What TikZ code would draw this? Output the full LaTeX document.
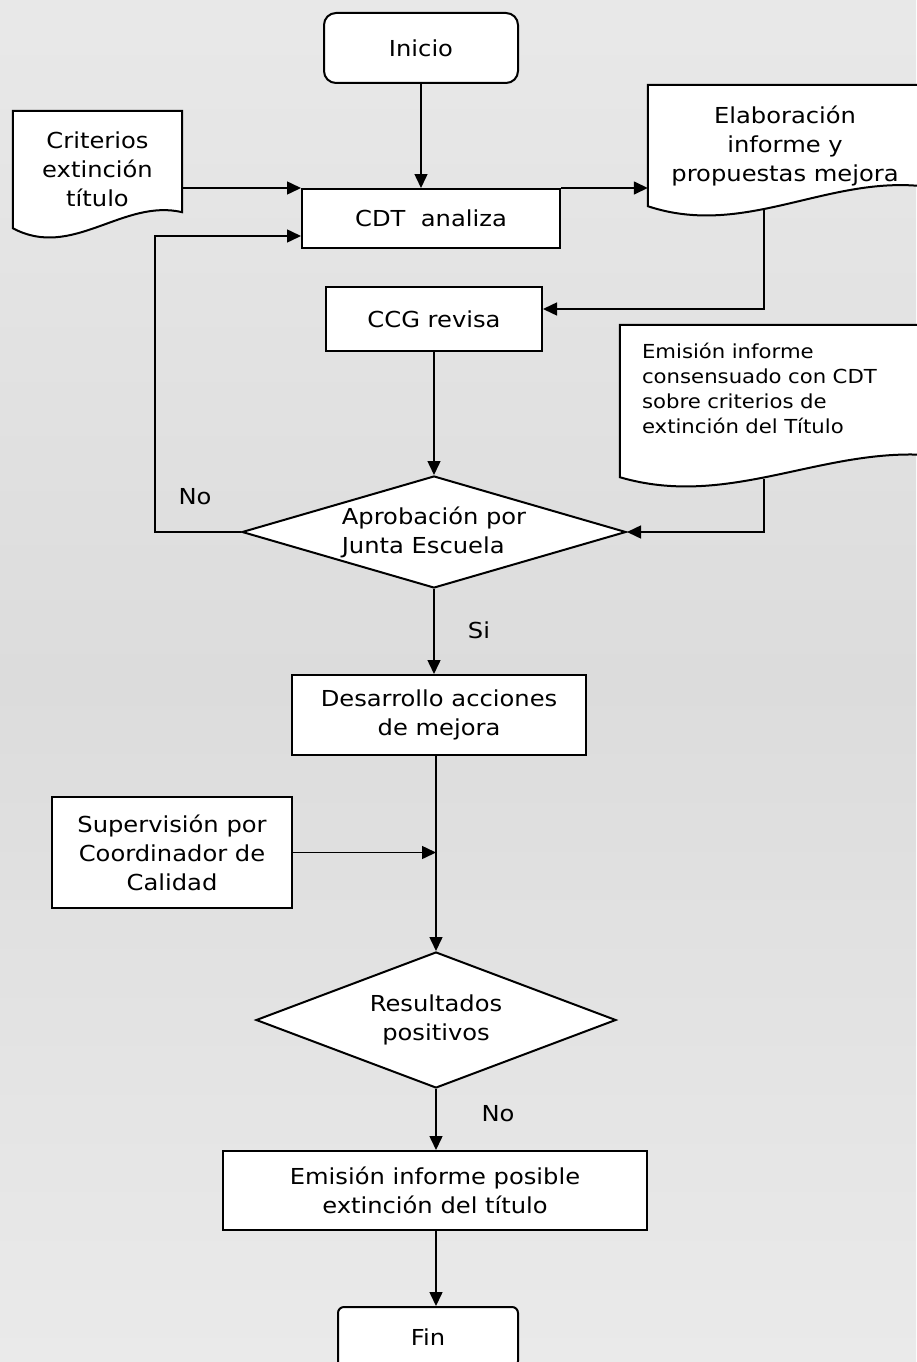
\documentclass[tikz,border=0pt]{standalone}
\usepackage{fontspec}
\setmainfont{DejaVu Sans}[FakeStretch=1.1]
\usepackage{tikz}
\usetikzlibrary{shapes,arrows,arrows.meta,calc}

\definecolor{fondoarriba}{HTML}{F5F5F5}
\definecolor{fondomedio}{HTML}{DCDCDC}
\definecolor{fondoabajo}{HTML}{F8F8F8}
\pgfdeclareverticalshading{fondo}{100bp}{color(0bp)=(fondoabajo); color(50bp)=(fondomedio); color(100bp)=(fondoarriba)}

\pgfdeclarelayer{bg}
\pgfdeclarelayer{hojas}
\pgfsetlayers{bg,hojas,main}

% contorno de documento con borde inferior ondulado
\newcommand{\hoja}[3]{%
\draw[line width=2pt, fill=white] (#1.north west) -- (#1.north east) -- ($(#1.south east)+(0,#2-#3)$)
  .. controls ($(#1.south west)!0.65!(#1.south east)+(0,#2-30)$) and ($(#1.south west)!0.35!(#1.south east)+(0,#2+32)$) .. ($(#1.south west)+(0,#2)$) -- cycle;}

\begin{document}
\begin{tikzpicture}[x=1pt,y=-1pt]
\tikzstyle{every node}=[font=\fontsize{22}{29}\selectfont]
\tikzstyle{caja}=[draw, fill=white, line width=2pt, align=center, inner sep=0pt]
\tikzstyle{terminal}=[caja, rounded corners=12pt]
\tikzstyle{rombo}=[caja, diamond]
\tikzstyle{hojatxt}=[align=center, inner sep=0pt]
\tikzstyle{flecha}=[line width=1.5pt, -{Triangle[length=14pt,width=13pt]}]
\tikzstyle{etiq}=[inner sep=0pt]

\useasboundingbox (0,0) rectangle (916,1362);
\begin{pgfonlayer}{bg}
\shade[shading=fondo] (0,0) rectangle (916,1362);
\end{pgfonlayer}

\node[terminal, minimum width=194pt, minimum height=70pt] (inicio) at (421,48) {Inicio};
\node[hojatxt, minimum width=169pt, minimum height=117pt] (crit) at (97.5,169.5) {Criterios\\extinción\\título};
\node[caja, minimum width=258pt, minimum height=59pt] (cdt) at (431,218.5) {CDT\ \ analiza};
\node[hojatxt, minimum width=274pt, minimum height=121pt] (elab) at (785,145.5) {Elaboración\\informe y\\propuestas mejora};
\node[caja, minimum width=216pt, minimum height=64pt] (ccg) at (434,319) {CCG revisa};
\node[hojatxt, align=left, font=\fontsize{19.3}{25}\selectfont, inner xsep=22pt, text width=266pt, minimum height=126pt] (emis) at (775,388) {Emisión informe\\consensuado con CDT\\sobre criterios de\\extinción del Título};
\node[rombo, aspect=3.43, align=left, minimum width=384pt, minimum height=112pt] (apro) at (434,532) {Aprobación por\\Junta Escuela};
\node[caja, minimum width=294pt, minimum height=80pt] (desa) at (439,715) {Desarrollo acciones\\de mejora};
\node[caja, minimum width=240pt, minimum height=111pt] (super) at (172,852.5) {Supervisión por\\Coordinador de\\Calidad};
\node[rombo, aspect=2.65, minimum width=360pt, minimum height=136pt] (resu) at (436,1020) {Resultados\\positivos};
\node[caja, minimum width=424pt, minimum height=79pt] (posible) at (435,1190.5) {Emisión informe posible\\extinción del título};
\node[caja, rounded corners=6pt, minimum width=180pt, minimum height=60pt] (fin) at (428,1337) {Fin};

\begin{pgfonlayer}{hojas}
\hoja{crit}{0}{16}
\hoja{elab}{0}{20}
\hoja{emis}{26}{22}
\end{pgfonlayer}

\coordinate (vuelta) at (155,236);
\coordinate (elabsal) at ($(elab.south west)+(116,3)$);
\coordinate (emissal) at ($(emis.south west)+(144,28)$);

\draw[flecha] (inicio.south) -- (inicio.south |- cdt.north);
\draw[flecha] (crit.east |- cdt.north) -- (cdt.north west);
\draw[flecha] (cdt.north east) -- (cdt.north east -| elab.west);
\draw[flecha] (elabsal) |- ([yshift=10pt]ccg.east);
\draw[flecha] (ccg.south -| apro.north) -- (apro.north);
\draw[flecha] (emissal) |- (apro.east);
\draw[flecha] (apro.west) -| (vuelta) -- (vuelta -| cdt.west);
\draw[flecha] (apro.south) -- (apro.south |- desa.north);
\draw[flecha] (resu.north |- desa.south) -- (resu.north);
\draw[flecha] (super.east) -- (super.east -| resu.north);
\draw[flecha] (resu.south) -- (resu.south |- posible.north);
\draw[flecha] (resu.south |- posible.south) -- (resu.south |- fin.north);

\node[etiq] (no1) at (195,497) {No};
\node[etiq] (si) at (479,630) {Si};
\node[etiq] (no2) at (498,1114) {No};
\end{tikzpicture}
\end{document}
